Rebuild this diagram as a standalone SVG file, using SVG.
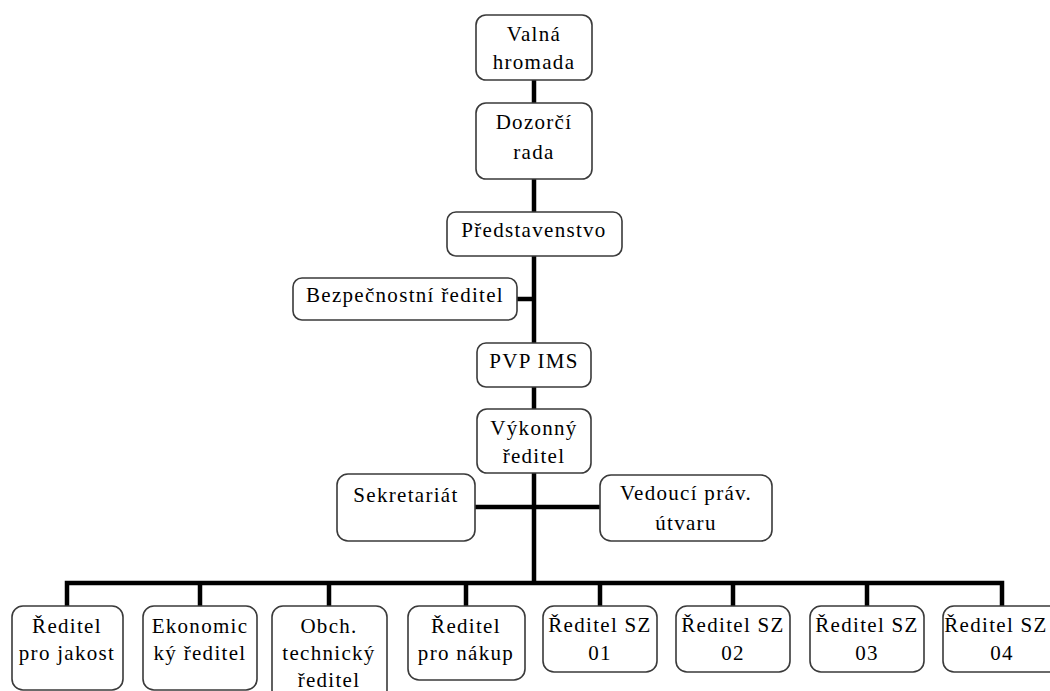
<svg xmlns="http://www.w3.org/2000/svg" width="1050" height="691" viewBox="0 0 1050 691">
<style>
.box{fill:#fff;stroke:#3a3a3a;stroke-width:1.6}
.t{font-family:'Liberation Serif','DejaVu Serif','Times New Roman',serif;font-size:21px;letter-spacing:1.3px;fill:#000;text-anchor:middle}
.c{stroke:#000;stroke-width:4.5;fill:none}
</style>
<rect width="1050" height="691" fill="#fff"/>
<g id="connectors">
<path class="c" d="M534 80V103M534 179V212M534 256V343M517 299H534M534 387V409M534 473V583M475 507H600"/>
<path class="c" d="M67 606V583H1002V606M200 583V606M329 583V606M466 583V606M600 583V606M733 583V606M867 583V606"/>
</g>
<g id="n-valna"><rect class="box" x="476" y="15" width="116" height="65" rx="10"/><text class="t" x="534" y="41">Valná</text><text class="t" x="534" y="69">hromada</text></g>
<g id="n-dozorci"><rect class="box" x="476" y="103" width="116" height="76" rx="10"/><text class="t" x="534" y="129">Dozorčí</text><text class="t" x="534" y="159">rada</text></g>
<g id="n-predstavenstvo"><rect class="box" x="447" y="212" width="175" height="44" rx="9"/><text class="t" x="534" y="237">Představenstvo</text></g>
<g id="n-bezpecnostni"><rect class="box" x="293" y="278" width="224" height="42" rx="9"/><text class="t" x="405" y="302">Bezpečnostní ředitel</text></g>
<g id="n-pvp"><rect class="box" x="477" y="343" width="114" height="44" rx="9"/><text class="t" x="534" y="368">PVP IMS</text></g>
<g id="n-vykonny"><rect class="box" x="477" y="409" width="114" height="64" rx="10"/><text class="t" x="534" y="435">Výkonný</text><text class="t" x="534" y="463">ředitel</text></g>
<g id="n-sekretariat"><rect class="box" x="337" y="474" width="138" height="67" rx="11"/><text class="t" x="406" y="502">Sekretariát</text></g>
<g id="n-vedouci"><rect class="box" x="600" y="475" width="172" height="66" rx="11"/><text class="t" x="686" y="500">Vedoucí práv.</text><text class="t" x="686" y="530">útvaru</text></g>
<g id="n-jakost"><rect class="box" x="12" y="606" width="111" height="84" rx="11"/><text class="t" x="67" y="633">Ředitel</text><text class="t" x="67" y="660">pro jakost</text></g>
<g id="n-ekonom"><rect class="box" x="143" y="606" width="114" height="84" rx="11"/><text class="t" x="200" y="633">Ekonomic</text><text class="t" x="200" y="660">ký ředitel</text></g>
<g id="n-obch"><rect class="box" x="272" y="606" width="115" height="95" rx="11"/><text class="t" x="329" y="633">Obch.</text><text class="t" x="329" y="660">technický</text><text class="t" x="329" y="687">ředitel</text></g>
<g id="n-nakup"><rect class="box" x="408" y="606" width="117" height="74" rx="11"/><text class="t" x="466" y="633">Ředitel</text><text class="t" x="466" y="660">pro nákup</text></g>
<g id="n-sz01"><rect class="box" x="543" y="606" width="114" height="66" rx="11"/><text class="t" x="600" y="632">Ředitel SZ</text><text class="t" x="600" y="660">01</text></g>
<g id="n-sz02"><rect class="box" x="676" y="606" width="114" height="66" rx="11"/><text class="t" x="733" y="632">Ředitel SZ</text><text class="t" x="733" y="660">02</text></g>
<g id="n-sz03"><rect class="box" x="810" y="606" width="114" height="66" rx="11"/><text class="t" x="867" y="632">Ředitel SZ</text><text class="t" x="867" y="660">03</text></g>
<g id="n-sz04"><rect class="box" x="943" y="606" width="118" height="66" rx="11"/><text class="t" x="996" y="632">Ředitel SZ</text><text class="t" x="1002" y="660">04</text></g>
</svg>
